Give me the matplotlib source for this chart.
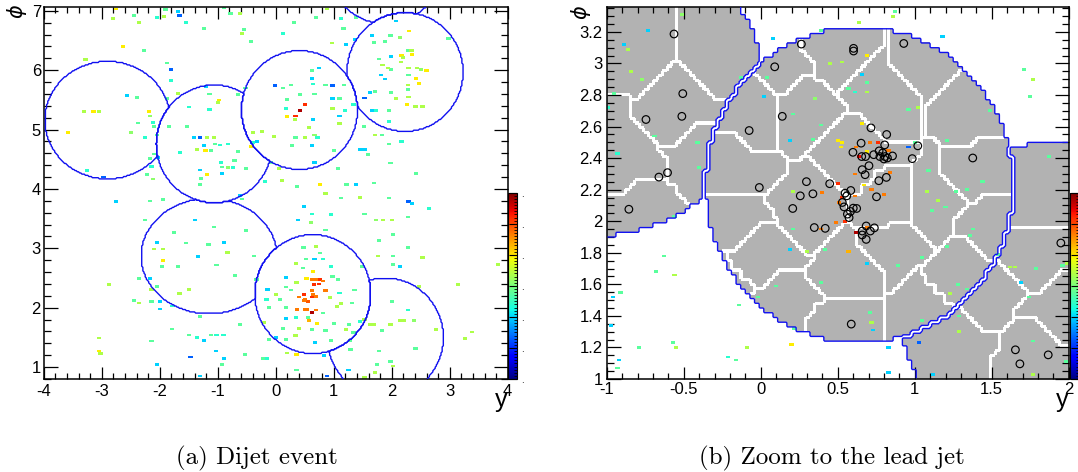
import numpy as np
import matplotlib
matplotlib.use('Agg')
import matplotlib.pyplot as plt
from matplotlib.colors import Normalize
from matplotlib.ticker import FixedLocator, AutoMinorLocator
import matplotlib.cm as cm

plt.rcParams['font.family'] = ['Liberation Sans', 'DejaVu Sans']
plt.rcParams['axes.unicode_minus'] = False

# jets, hardest first: rapidity, phi, radius in y, radius in phi
jet_y = [0.64, 0.41, 2.23, -1.06, -1.15, -2.90, 1.89]
jet_phi = [2.23, 5.33, 5.97, 4.76, 2.87, 5.16, 1.50]
jet_ry = [1.0, 1.0, 1.0, 1.0, 1.17, 1.08, 1.0]
jet_rphi = [1.0, 1.0, 1.0, 0.99, 0.97, 0.99, 1.0]

# centres of the sub-areas shown in the zoom (jet index, y, phi)
seed_jet = [0, 0, 0, 0, 0, 0, 0, 0, 0, 0, 0, 0, 0, 0, 0, 0, 0, 0, 0, 0, 0, 0, 0,
            4, 4, 4, 4, 4, 4, 6, 6, 6, 6, 6, 6]
seed_y = [0.46, -0.05, 0.26, 0.80, 1.35, 1.40, 0.62, -0.18, -0.18, 0.31, 0.80, 1.13,
          0.00, 0.57, 1.31, 0.57, 1.02, 0.13, 0.15, 1.05, 1.45, -0.25, 0.85,
          -0.80, -0.30, -0.55, -0.88, -0.40, -0.80,
          1.80, 1.80, 1.45, 1.30, 1.75, 1.95]
seed_phi = [3.10, 2.70, 2.72, 2.78, 2.71, 2.30, 2.42, 2.31, 2.03, 2.10, 2.10, 2.10,
            1.76, 1.65, 1.67, 1.40, 1.40, 1.50, 3.00, 3.00, 2.00, 1.55, 1.85,
            3.15, 3.15, 2.65, 2.40, 2.45, 2.05,
            2.20, 1.75, 1.55, 1.20, 1.15, 1.45]

# calorimeter cells of the full event: (y, phi, energy on the 0-1 colour scale)
event_cells = [
    (-2.75, 7.03, .66), (-2.81, 6.87, .56), (-2.45, 6.92, .46), (-2.35, 6.80, .56), (-2.05, 6.89, .40),
    (-1.93, 6.90, .56), (-1.90, 7.02, .46), (-1.66, 6.92, .22), (-1.69, 6.99, .33), (-1.54, 6.80, .40),
    (-1.23, 6.70, .46), (-0.89, 7.05, .46), (-0.78, 6.95, .46), (-0.62, 6.96, .56), (-0.55, 6.69, .46),
    (-0.58, 6.62, .56), (-0.42, 6.48, .46), (0.13, 6.62, .40), (0.32, 6.80, .46), (0.88, 7.03, .56),
    (0.70, 6.89, .46), (1.17, 6.70, .46), (1.12, 6.87, .40), (1.38, 6.89, .46), (1.37, 6.52, .33),
    (1.21, 6.43, .33), (0.97, 6.46, .56), (1.66, 6.58, .33), (2.07, 6.83, .33), (1.98, 6.58, .46),
    (2.30, 6.66, .66), (2.14, 6.55, .52), (1.69, 6.47, .46), (1.89, 6.48, .46), (2.29, 6.33, .46),
    (2.17, 6.25, .66), (2.34, 6.33, .56), (2.35, 6.26, .66), (1.78, 6.19, .46), (1.99, 6.23, .33),
    (2.16, 6.14, .56), (2.20, 6.21, .56), (1.84, 6.09, .56), (1.99, 6.01, .46), (1.93, 6.04, .56),
    (2.44, 6.04, .56), (2.60, 6.00, .66), (2.51, 6.01, .52), (2.29, 6.04, .56), (1.81, 5.92, .33),
    (2.29, 5.92, .46), (2.42, 5.86, .66), (2.47, 5.78, .66), (2.28, 5.75, .56), (2.28, 5.68, .46),
    (1.89, 5.85, .33), (1.53, 5.53, .22), (1.63, 5.62, .33), (1.71, 5.64, .46), (1.99, 5.63, .46),
    (2.29, 5.55, .56), (2.07, 5.52, .56), (2.26, 5.42, .66), (2.41, 5.39, .56), (2.53, 5.39, .56),
    (1.66, 5.32, .33), (1.73, 5.32, .40), (1.96, 5.32, .46), (2.98, 6.54, .46), (1.52, 5.05, .46),
    (1.95, 5.14, .40), (1.71, 4.91, .56), (1.83, 4.91, .46), (2.17, 4.80, .40), (1.95, 4.76, .46),
    (1.46, 4.66, .33), (1.53, 4.66, .33), (1.59, 4.58, .46), (1.98, 4.44, .46), (2.42, 4.26, .46),
    (1.69, 4.10, .46), (1.22, 4.07, .46), (1.39, 4.07, .33), (1.08, 4.34, .46), (0.77, 4.08, .66),
    (0.86, 3.92, .56), (1.13, 3.85, .46), (1.46, 3.86, .56), (1.95, 3.85, .46), (2.29, 3.79, .22),
    (2.35, 3.76, .33), (2.65, 3.67, .40), (1.53, 3.58, .46), (1.73, 3.48, .52), (1.85, 3.48, .56),
    (2.00, 3.48, .56), (2.28, 3.53, .46), (2.02, 3.23, .46), (2.28, 3.01, .46), (2.53, 2.85, .56),
    (2.02, 2.87, .46), (1.76, 2.87, .56), (1.78, 3.13, .46), (1.49, 2.70, .46), (2.02, 2.73, .46),
    (2.47, 2.36, .56), (3.14, 2.39, .56), (3.83, 2.73, .56), (2.14, 2.70, .33), (2.00, 2.11, .46),
    (2.28, 1.96, .40), (2.14, 1.78, .56), (2.21, 1.78, .56), (2.38, 1.78, .52), (2.76, 1.63, .56),
    (3.39, 1.59, .56), (3.26, 1.48, .56), (1.69, 1.72, .56), (1.62, 1.72, .56), (1.83, 1.62, .46),
    (1.98, 1.72, .56), (1.53, 1.80, .56), (1.46, 1.77, .40), (1.34, 1.58, .46), (2.41, 1.31, .46),
    (1.78, 1.27, .46), (1.98, 1.10, .46), (2.02, 1.02, .56), (1.74, 1.05, .46), (1.71, 0.91, .56),
    (1.53, 0.83, .56), (1.26, 0.95, .33), (0.89, 0.85, .22), (0.83, 1.20, .33), (1.29, 1.30, .46),
    (1.28, 1.45, .46), (1.21, 1.63, .56),
    (-3.28, 6.18, .56), (-2.63, 6.40, .66), (-2.27, 6.33, .46), (-1.87, 6.12, .46), (-1.81, 6.01, .22),
    (-1.81, 5.83, .40), (-1.87, 5.52, .46), (-2.57, 5.58, .33), (-2.39, 5.54, .46), (-2.18, 5.30, .66),
    (-2.17, 5.23, .52), (-2.11, 5.12, .40), (-2.10, 5.05, .46), (-2.38, 5.11, .46), (-3.30, 5.31, .56),
    (-3.14, 5.31, .66), (-3.05, 5.31, .56), (-3.58, 4.95, .66), (-2.50, 4.95, .52), (-2.26, 4.87, .40),
    (-1.84, 5.05, .46), (-2.05, 4.91, .46), (-2.10, 4.59, .46), (-2.17, 4.51, .46), (-2.03, 4.53, .33),
    (-2.14, 4.38, .40), (-2.22, 4.24, .46), (-3.26, 4.31, .40), (-2.97, 4.20, .22), (-2.11, 4.17, .52),
    (-2.75, 3.79, .33), (-2.17, 3.80, .46), (-1.94, 3.82, .46), (-1.68, 5.61, .56), (-1.20, 5.73, .33),
    (-1.14, 5.60, .46), (-1.50, 5.38, .40), (-0.98, 5.50, .66), (-1.00, 5.46, .56), (-1.14, 5.34, .40),
    (-1.53, 5.05, .46), (-1.31, 4.87, .22), (-1.41, 4.87, .33), (-1.19, 4.87, .56), (-1.06, 4.87, .56),
    (-1.36, 4.67, .56), (-1.23, 4.73, .33), (-1.04, 4.76, .46), (-0.96, 4.74, .40), (-0.82, 4.76, .40),
    (-1.21, 4.65, .66), (-1.12, 4.65, .46), (-1.65, 4.61, .40), (-0.65, 4.63, .46), (-0.42, 4.72, .66),
    (-0.40, 4.78, .40), (-0.32, 4.80, .33), (-0.71, 4.48, .46), (-0.94, 4.45, .40), (-0.92, 4.37, .46),
    (-0.82, 4.36, .52), (-0.74, 4.36, .40), (-1.30, 4.32, .33), (-1.18, 4.24, .66), (-0.92, 4.26, .33),
    (-0.51, 4.35, .46), (-1.29, 4.18, .46), (-1.31, 4.07, .46), (-0.62, 3.89, .33), (-0.58, 3.83, .46),
    (-0.18, 4.13, .40), (-0.08, 4.45, .46), (-0.65, 5.59, .46), (-0.52, 5.70, .46), (-0.01, 5.74, .22),
    (0.12, 5.70, .46), (0.26, 5.75, .46), (0.20, 5.22, .66), (0.34, 5.23, .86), (0.42, 5.32, .96),
    (0.50, 5.42, .86), (0.19, 5.51, .46), (0.18, 5.36, .40), (0.42, 5.59, .46), (0.67, 5.60, .46),
    (0.74, 6.04, .33), (0.62, 6.00, .46), (0.63, 5.86, .33), (0.64, 5.77, .40), (0.86, 5.75, .46),
    (0.98, 5.74, .22), (1.18, 5.75, .46), (0.98, 5.52, .33), (1.10, 5.52, .46), (0.98, 5.36, .56),
    (1.19, 5.32, .40), (1.34, 5.42, .40), (1.10, 5.23, .33), (1.10, 5.10, .56), (0.65, 5.17, .33),
    (0.33, 5.17, .56), (0.58, 5.04, .56), (0.67, 4.91, .52), (0.50, 4.87, .56), (0.34, 4.87, .46),
    (0.72, 4.87, .40), (0.62, 4.73, .33), (0.28, 4.73, .46), (-0.03, 4.88, .56), (-0.23, 4.97, .56),
    (-0.39, 4.95, .56), (1.01, 4.65, .46), (0.67, 4.45, .33), (0.06, 4.34, .56), (0.11, 4.14, .56),
    (0.37, 4.04, .46), (0.49, 3.71, .33), (0.62, 3.58, .40), (0.39, 3.48, .33), (0.95, 3.57, .40),
    (0.86, 3.31, .46), (0.61, 3.44, .52),
    (-1.39, 3.48, .33), (-0.89, 3.10, .33), (-1.06, 3.36, .46), (-0.51, 3.30, .46), (-1.75, 3.27, .46),
    (-2.26, 3.48, .46), (-2.05, 3.10, .33), (-2.10, 2.99, .56), (-1.94, 2.99, .56), (-1.55, 3.09, .46),
    (-1.16, 3.06, .46), (-0.83, 2.93, .56), (-1.34, 2.86, .33), (-1.02, 2.72, .46), (-1.94, 2.80, .66),
    (-1.96, 2.70, .46), (-1.69, 2.70, .46), (-0.70, 2.54, .46), (-2.17, 2.49, .33), (-2.35, 2.49, .46),
    (-2.05, 2.36, .46), (-2.14, 2.31, .56), (-1.49, 2.31, .56), (-1.66, 2.24, .56), (-2.44, 2.12, .46),
    (-2.35, 2.08, .56), (-2.14, 2.11, .46), (-1.99, 2.11, .33), (-1.99, 1.98, .33), (-1.78, 2.03, .40),
    (-1.31, 1.85, .46), (-2.87, 2.39, .56), (-1.79, 1.64, .46), (-1.50, 1.54, .46), (-1.36, 1.50, .40),
    (-1.23, 1.45, .33), (-1.11, 1.54, .46), (-1.02, 1.54, .40), (-0.90, 1.54, .40), (-1.03, 1.27, .33),
    (-1.47, 1.17, .22), (-0.89, 1.14, .33), (-0.92, 1.05, .46), (-2.14, 1.44, .46), (-2.05, 1.04, .33),
    (-3.05, 1.49, .56), (-3.05, 1.27, .66), (-3.02, 1.23, .56), (-1.31, 0.85, .33), (-0.61, 1.72, .46),
    (-0.53, 1.21, .46), (-0.21, 1.14, .46), (-0.15, 1.14, .40), (-0.12, 1.46, .46), (0.00, 1.50, .33),
    (-0.33, 2.47, .46), (-0.37, 2.87, .46), (0.36, 1.21, .66), (0.20, 1.24, .56), (0.36, 0.95, .46),
    (1.24, 0.95, .33),
    (0.48, 3.01, .46), (0.70, 3.03, .56), (0.76, 2.92, .46), (0.67, 2.82, .33), (0.52, 2.82, .46),
    (0.35, 2.75, .56), (0.81, 2.82, .40), (0.95, 2.70, .40), (0.64, 2.61, .66), (0.53, 2.49, .66),
    (0.63, 2.47, .78), (0.70, 2.47, .78), (0.76, 2.47, .86), (0.82, 2.45, .78), (0.66, 2.39, .86),
    (0.74, 2.40, .86), (0.86, 2.29, .78), (0.62, 2.29, .78), (0.49, 2.22, .86), (0.65, 2.22, .78),
    (0.70, 2.19, .78), (0.40, 2.18, .78), (0.62, 2.18, .86), (0.49, 2.12, .78), (0.56, 2.10, .82),
    (0.50, 2.14, .78), (0.37, 1.97, .78), (0.50, 1.97, .78), (0.54, 1.97, .78), (0.70, 1.96, .78),
    (0.62, 1.92, .96), (0.58, 1.79, .72), (0.71, 1.73, .66), (0.18, 2.51, .33), (0.36, 2.42, .56),
    (0.47, 2.67, .46), (0.18, 2.35, .46), (0.27, 2.30, .46), (0.98, 2.53, .46), (1.07, 2.47, .46),
    (1.10, 2.25, .40), (0.94, 2.17, .56), (1.31, 2.08, .46), (1.13, 2.07, .56), (1.06, 2.02, .56),
    (1.36, 2.30, .46), (0.18, 2.00, .46), (0.07, 2.14, .46), (0.00, 2.22, .56), (-0.14, 2.31, .33),
    (-0.16, 2.14, .40), (-0.12, 2.00, .46), (0.18, 1.82, .33), (0.35, 1.83, .40), (0.55, 1.84, .46),
    (0.82, 1.91, .46), (1.00, 1.74, .46), (0.86, 1.62, .46), (0.62, 1.63, .46), (1.26, 1.72, .46),
    (0.18, 1.46, .46), (0.34, 1.53, .56), (0.68, 1.41, .33), (0.95, 1.45, .46), (0.12, 1.65, .46),
    (-0.20, 1.75, .56), (0.40, 1.65, .56),
]

# cells in the zoomed window
zoom_cells = [
    (-0.51, 3.31, .52), (-0.73, 3.21, .33), (-0.89, 3.12, .33), (-0.86, 3.09, .56), (-0.84, 2.95, .56),
    (-0.77, 2.90, .52), (-0.95, 2.81, .46), (-0.99, 2.72, .40), (-0.69, 2.54, .46), (-0.41, 2.50, .46),
    (-0.40, 2.34, .46), (-0.93, 2.43, .40), (-0.56, 2.03, .46), (-0.63, 1.78, .46), (-0.68, 1.68, .46),
    (-0.56, 1.66, .56), (-0.91, 1.55, .46), (-0.96, 1.52, .33), (-0.14, 1.47, .46), (-0.97, 1.34, .33),
    (-0.57, 1.23, .46), (-0.79, 1.20, .46), (-0.55, 1.20, .56), (-0.92, 1.12, .33), (-0.93, 1.07, .46),
    (-0.21, 1.14, .40), (-0.16, 1.12, .46), (-0.09, 1.20, .56), (0.20, 1.22, .66), (0.64, 3.26, .56),
    (0.87, 3.33, .46), (0.86, 3.30, .56), (0.08, 3.16, .33), (0.39, 3.21, .46), (0.69, 3.05, .66),
    (0.53, 3.01, .56), (0.45, 3.00, .56), (0.66, 2.93, .33), (0.69, 2.88, .46), (0.61, 2.82, .40),
    (0.57, 2.84, .46), (0.69, 2.82, .56), (0.35, 2.78, .52), (0.21, 2.68, .46), (0.04, 2.91, .46),
    (-0.13, 2.91, .46), (0.02, 2.79, .33), (0.39, 2.61, .46), (0.66, 2.62, .66), (0.50, 2.51, .66),
    (0.53, 2.50, .66), (0.62, 2.47, .78), (0.52, 2.47, .66), (0.71, 2.50, .78), (0.76, 2.50, .86),
    (0.83, 2.45, .78), (0.96, 2.47, .22), (1.00, 2.50, .46), (0.19, 2.51, .33), (0.34, 2.52, .46),
    (0.64, 2.41, .90), (0.69, 2.44, .66), (0.84, 2.31, .78), (0.61, 2.30, .78), (0.50, 2.24, .86),
    (0.67, 2.23, .66), (0.72, 2.20, .78), (0.80, 2.17, .78), (0.40, 2.18, .78), (0.61, 2.16, .78),
    (0.53, 2.15, .86), (0.51, 2.12, .78), (0.49, 1.99, .78), (0.55, 2.00, .86), (0.62, 1.93, .96),
    (0.69, 1.96, .78), (0.39, 1.95, .78), (0.57, 1.81, .72), (0.21, 2.19, .56), (0.21, 1.95, .46),
    (0.19, 1.82, .33), (0.30, 1.81, .56), (0.42, 1.82, .46), (0.69, 1.73, .33), (0.89, 1.72, .46),
    (1.05, 1.77, .46), (1.08, 2.19, .56), (1.11, 2.07, .46), (1.15, 2.13, .56), (1.20, 2.09, .46),
    (1.27, 2.19, .46), (1.34, 2.20, .46), (1.44, 2.25, .46), (1.09, 2.32, .46), (1.21, 2.51, .46),
    (1.02, 2.72, .56), (0.96, 2.71, .46), (1.49, 2.70, .46), (1.38, 1.95, .46), (1.36, 1.91, .46),
    (1.21, 1.84, .46), (1.28, 1.60, .46), (1.23, 1.54, .56), (1.34, 1.57, .46), (1.18, 3.17, .33),
    (1.71, 2.96, .46), (1.77, 2.90, .56), (1.75, 2.79, .46), (1.87, 2.41, .46), (1.62, 1.71, .56),
    (1.65, 1.71, .56), (1.69, 1.61, .33), (1.74, 1.52, .46), (1.79, 1.70, .46), (1.96, 1.72, .46),
    (1.99, 1.73, .56), (1.54, 1.79, .46), (1.29, 1.30, .56), (1.29, 1.40, .46), (0.71, 1.42, .46),
    (0.72, 1.36, .56), (0.73, 1.31, .33), (0.83, 1.20, .33), (1.03, 1.23, .22), (1.12, 1.03, .33),
    (0.83, 1.04, .33), (1.77, 1.24, .46), (1.77, 1.03, .56), (1.98, 1.11, .46), (0.10, 1.59, .46),
    (-0.02, 1.52, .46), (0.22, 1.32, .46), (0.39, 1.61, .46), (1.05, 1.37, .46),
]

# particles (open circles) in the zoomed window
particle_y = [-0.563, 0.264, 0.603, 0.603, 0.929, 0.091, -0.506, -0.512, -0.745, 0.140,
              -0.075, 0.716, 0.818, 0.652, 0.805, 1.020, 0.599, 0.656, 0.681, 0.734,
              0.769, 0.792, 0.807, 0.774, 0.823, 0.856, 0.800, 0.984, 1.377, 0.703,
              0.659, 0.678, 0.816, 0.767, 0.297, 0.448, -0.009, 0.585, 0.548, 0.559,
              0.339, 0.257, 0.752, 0.530, 0.541, 0.208, 0.601, 0.623, 0.583, 0.563,
              0.574, 0.348, 0.419, 0.685, 0.738, 0.659, 0.712, 0.659, 0.685, -0.856,
              -0.661, -0.605, 0.588, 1.949, 1.654, 1.683, 1.867]
particle_phi = [3.187, 3.123, 3.096, 3.079, 3.127, 2.979, 2.809, 2.665, 2.645, 2.665,
                2.575, 2.592, 2.550, 2.495, 2.484, 2.478, 2.437, 2.410, 2.410, 2.422,
                2.446, 2.433, 2.410, 2.410, 2.401, 2.414, 2.395, 2.397, 2.401, 2.352,
                2.327, 2.295, 2.278, 2.257, 2.251, 2.238, 2.214, 2.195, 2.178, 2.161,
                2.174, 2.161, 2.155, 2.119, 2.091, 2.081, 2.083, 2.081, 2.062, 2.045,
                2.023, 1.960, 1.955, 1.970, 1.958, 1.938, 1.938, 1.913, 1.885, 2.076,
                2.280, 2.308, 1.348, 1.862, 1.185, 1.096, 1.153]

left_xticks = [-4, -3, -2, -1, 0, 1, 2, 3, 4]
left_xlabels = ['-4', '-3', '-2', '-1', '0', '1', '2', '3', '4']
left_yticks = [1, 2, 3, 4, 5, 6, 7]
left_ylabels = ['1', '2', '3', '4', '5', '6', '7']
right_xticks = [-1, -0.5, 0, 0.5, 1, 1.5, 2]
right_xlabels = ['-1', '-0.5', '0', '0.5', '1', '1.5', '2']
right_yticks = [1.0, 1.2, 1.4, 1.6, 1.8, 2.0, 2.2, 2.4, 2.6, 2.8, 3.0, 3.2]
right_ylabels = ['1', '1.2', '1.4', '1.6', '1.8', '2', '2.2', '2.4', '2.6', '2.8', '3', '3.2']

BLUE = '#1010f0'
GRAY = (0.70, 0.70, 0.70)
cmap = plt.get_cmap('jet')
norm = Normalize(0, 1)
cell_marker = [(-1, -0.65), (1, -0.65), (1, 0.65), (-1, 0.65)]


def jet_labels(yc, pc):
    Y, P = np.meshgrid(yc, pc)
    lab = np.full(Y.shape, -1)
    for k in range(len(jet_y)):
        dp = (P - jet_phi[k] + np.pi) % (2 * np.pi) - np.pi
        d2 = ((Y - jet_y[k]) / jet_ry[k]) ** 2 + (dp / jet_rphi[k]) ** 2
        lab[(lab < 0) & (d2 < 1)] = k
    return Y, P, lab


def edges(F, valid):
    b = np.zeros(F.shape, bool)
    d = (F[:, 1:] != F[:, :-1]) & valid[:, 1:] & valid[:, :-1]
    b[:, 1:] |= d
    b[:, :-1] |= d
    d = (F[1:, :] != F[:-1, :]) & valid[1:, :] & valid[:-1, :]
    b[1:, :] |= d
    b[:-1, :] |= d
    return b


def root_style(ax, xt, xl, xn, yt, yl, yn, xpad, ypad):
    ax.xaxis.set_major_locator(FixedLocator(xt))
    ax.set_xticklabels(xl)
    ax.yaxis.set_major_locator(FixedLocator(yt))
    ax.set_yticklabels(yl)
    ax.xaxis.set_minor_locator(AutoMinorLocator(xn))
    ax.yaxis.set_minor_locator(AutoMinorLocator(yn))
    ax.tick_params(which='both', direction='in', top=True, right=True, width=0.9,
                   labelsize=12, colors='black')
    ax.tick_params(axis='x', which='major', length=8.5, pad=xpad)
    ax.tick_params(axis='x', which='minor', length=4.2)
    ax.tick_params(axis='y', which='major', length=10, pad=ypad)
    ax.tick_params(axis='y', which='minor', length=5.2)
    for s in ax.spines.values():
        s.set_linewidth(1.1)


def add_palette(fig, rect, show_labels=True):
    cax = fig.add_axes(rect)
    sm = cm.ScalarMappable(norm=norm, cmap=cmap)
    cb = fig.colorbar(sm, cax=cax)
    cb.outline.set_linewidth(0.8)
    cax.yaxis.set_major_locator(FixedLocator(np.linspace(0, 1, 7)))
    cax.yaxis.set_minor_locator(AutoMinorLocator(10))
    cax.set_yticklabels(['.'] * 7)
    cax.tick_params(which='major', direction='in', length=6, width=0.8, labelsize=7, pad=3,
                    labelright=show_labels)
    cax.tick_params(which='minor', direction='in', length=2.5, width=0.6)
    return cax


fig = plt.figure(figsize=(10.78, 4.72), dpi=100)
W, H = 1078.0, 472.0

# ---- (a) full event ----
axl = fig.add_axes([43.7 / W, 1 - 379 / H, 464 / W, 372.3 / H])
axl.set_xlim(-4, 4)
axl.set_ylim(0.80, 7.07)

ev = np.array(event_cells)
axl.scatter(ev[:, 0], ev[:, 1], c=ev[:, 2], cmap=cmap, norm=norm, marker=cell_marker,
            s=9, linewidths=0, zorder=2)

yc = np.arange(-4.0, 4.0001, 0.02)
pc = np.arange(0.80, 7.0701, 0.02)
_, _, lab = jet_labels(yc, pc)
for k in range(len(jet_y)):
    m = (lab == k).astype(float)
    if m.any():
        axl.contour(yc, pc, m, levels=[0.5], colors=BLUE, linewidths=1.0, zorder=3)

root_style(axl, left_xticks, left_xlabels, 5, left_yticks, left_ylabels, 5, 3.5, 2)
axl.text(1.0, -0.074, 'y', transform=axl.transAxes, ha='right', va='baseline', fontsize=18)
axl.text(-0.0586, 0.987, r'$\phi$', transform=axl.transAxes, ha='center', va='center',
         rotation=90, fontsize=15)
add_palette(fig, [508.3 / W, 1 - 379 / H, 9 / W, (379 - 192.7) / H])

# ---- (b) zoom to the lead jet ----
axr = fig.add_axes([606.7 / W, 1 - 379 / H, 462 / W, 372.3 / H])

step = 0.03
nx, ny = 100, 79
yce = -1 + (np.arange(nx) + 0.5) * step
pce = 1 + (np.arange(ny) + 0.5) * step
Y, P, J = jet_labels(yce, pce)
S = np.full(J.shape, -1)
sj = np.array(seed_jet)
sy = np.array(seed_y)
sp = np.array(seed_phi)
for k in np.unique(J[J >= 0]):
    idx = np.where(sj == k)[0]
    if len(idx) == 0:
        S[J == k] = k * 100
        continue
    # city-block distance gives the stepped area borders
    d = np.stack([np.abs(Y - sy[i]) + np.abs(P - sp[i]) for i in idx])
    near = idx[np.argmin(d, axis=0)]
    S[J == k] = k * 100 + near[J == k]

up = 3
FJ = np.repeat(np.repeat(J, up, 0), up, 1)
FS = np.repeat(np.repeat(S, up, 0), up, 1)
yf = -1 + (np.arange(FJ.shape[1]) + 0.5) * step / up
pf = 1 + (np.arange(FJ.shape[0]) + 0.5) * step / up
inside = FJ >= 0
white_all = edges(FS, inside)
white_jet = edges(FJ, inside)

img = np.ones(FJ.shape + (3,))
img[inside] = GRAY
img[white_all] = 1.0
axr.imshow(img, extent=(-1, -1 + nx * step, 1, 1 + ny * step), origin='lower',
           interpolation='nearest', aspect='auto', zorder=0)

for k in np.unique(J[J >= 0]):
    m = ((FJ == k) & ~white_jet).astype(float)
    axr.contour(yf, pf, m, levels=[0.5], colors=BLUE, linewidths=1.0, zorder=3)

zc = np.array(zoom_cells)
axr.scatter(zc[:, 0], zc[:, 1], c=zc[:, 2], cmap=cmap, norm=norm, marker=cell_marker,
            s=9, linewidths=0, zorder=2)
axr.scatter(particle_y, particle_phi, s=30, facecolors='none', edgecolors='black',
            linewidths=0.85, zorder=4)
axr.set_xlim(-1, 2)
axr.set_ylim(1.0, 3.36)

root_style(axr, right_xticks, right_xlabels, 5, right_yticks, right_ylabels, 4, 2, 3)
axr.text(1.0, -0.074, 'y', transform=axr.transAxes, ha='right', va='baseline', fontsize=18)
axr.text(-0.0556, 0.984, r'$\phi$', transform=axr.transAxes, ha='center', va='center',
         rotation=90, fontsize=15)
add_palette(fig, [1069.7 / W, 1 - 379 / H, 9 / W, (379 - 192.7) / H], show_labels=False)

# ---- captions ----
fig.text(257 / W, 1 - 458 / H, '(a) Dijet event', ha='center', va='center',
         family='cmr10', fontsize=18)
fig.text(832 / W, 1 - 458 / H, '(b) Zoom to the lead jet', ha='center', va='center',
         family='cmr10', fontsize=18)

fig.savefig('out.png', dpi=100)
